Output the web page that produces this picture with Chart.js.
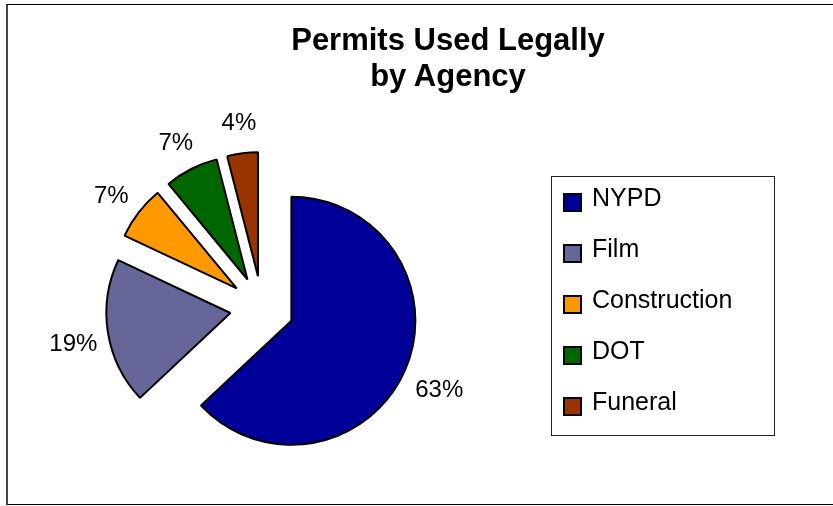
<!DOCTYPE html>
<html>
<head>
<meta charset="utf-8">
<script src="https://cdn.jsdelivr.net/npm/chart.js@4/dist/chart.umd.min.js"></script>
<style>
  body { margin: 0; background: #fff; }
  #wrap { position: relative; width: 833px; height: 506px; overflow: hidden; font-family: "Liberation Sans", Arial, sans-serif; }
  #frame { position: absolute; left: 6px; top: 4px; width: 840px; height: 499px; border: 1px solid #000; border-left: 2px solid #444; }
  #title { position: absolute; left: 248px; width: 400px; top: 22px; text-align: center; font-weight: bold; font-size: 31px; line-height: 36px; color: #000; }
  #legend { position: absolute; left: 551px; top: 176px; width: 222px; height: 258px; border: 1px solid #222; }
  .item { position: absolute; left: 0; font-size: 25px; line-height: 25px; white-space: nowrap; }
  .item span { position: absolute; left: 40px; top: 0; }
  .item i { position: absolute; left: 11px; width: 19px; height: 19px; box-sizing: border-box; border: 2px solid #000; }
  canvas { position: absolute; left: 0; top: 0; }
</style>
</head>
<body>
<div id="wrap">
  <div id="frame"></div>
  <canvas id="pie" width="833" height="506"></canvas>
  <div id="title">Permits Used Legally<br>by Agency</div>
  <div id="legend"></div>
</div>
<script>
const agencies = ["NYPD", "Film", "Construction", "DOT", "Funeral"];
const shares = [63, 19, 7, 7, 4];
const colors = ["#000099", "#666699", "#FF9900", "#006600", "#993300"];

const explode = 32;

// pull every slice out along its bisector without growing its radius
// (the built-in offset option also enlarges big slices)
const explodeSlices = {
  id: "explodeSlices",
  beforeDatasetDraw(chart, args) {
    const ctx = chart.ctx;
    args.meta.data.forEach(arc => {
      const mid = (arc.startAngle + arc.endAngle) / 2;
      ctx.save();
      ctx.translate(Math.cos(mid) * explode, Math.sin(mid) * explode);
      arc.draw(ctx, chart.chartArea);
      ctx.restore();
    });
    return false;
  }
};

// percent labels just outside each slice
const pctLabels = {
  id: "pctLabels",
  afterDatasetsDraw(chart) {
    const ctx = chart.ctx;
    const meta = chart.getDatasetMeta(0);
    ctx.save();
    ctx.font = '24px "Liberation Sans", Arial, sans-serif';
    ctx.fillStyle = "#000";
    ctx.textAlign = "center";
    ctx.textBaseline = "middle";
    meta.data.forEach((arc, i) => {
      const p = arc.getProps(["x", "y", "startAngle", "endAngle", "outerRadius"]);
      const mid = (p.startAngle + p.endAngle) / 2;
      const d = explode + p.outerRadius + 36;
      ctx.fillText(shares[i] + "%", p.x + Math.cos(mid) * d + 1, p.y + Math.sin(mid) * d + 6);
    });
    ctx.restore();
  }
};

new Chart(document.getElementById("pie"), {
  type: "pie",
  data: {
    labels: agencies,
    datasets: [{
      data: shares,
      backgroundColor: colors,
      borderColor: "#000",
      borderWidth: 2
    }]
  },
  options: {
    responsive: false,
    animation: false,
    events: [],
    radius: 124,
    layout: { padding: { left: 0, right: 309, top: 110, bottom: 0 } },
    plugins: {
      legend: { display: false },
      title: { display: false },
      tooltip: { enabled: false }
    }
  },
  plugins: [explodeSlices, pctLabels]
});

// boxed legend on the right
const legend = document.getElementById("legend");
agencies.forEach((name, i) => {
  const row = document.createElement("div");
  row.className = "item";
  row.style.top = (8 + 51 * i) + "px";
  const mark = document.createElement("i");
  mark.style.background = colors[i];
  mark.style.top = "8px";
  const txt = document.createElement("span");
  txt.textContent = name;
  row.appendChild(mark);
  row.appendChild(txt);
  legend.appendChild(row);
});
</script>
</body>
</html>
